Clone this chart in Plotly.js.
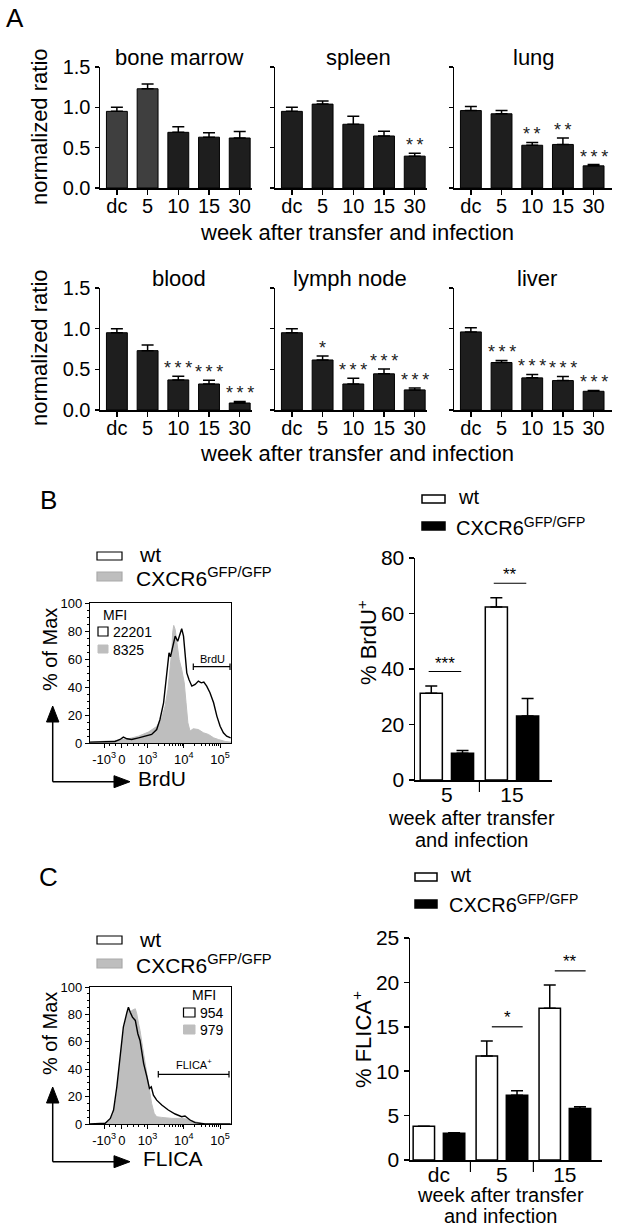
<!DOCTYPE html>
<html><head><meta charset="utf-8">
<script src="https://cdn.plot.ly/plotly-3.0.1.min.js"></script>
<style>body{margin:0;padding:0;background:#fff}#chart{width:622px;height:1229px}</style>
</head><body><div id="chart"></div>
<script>
// ---------- DATA ----------
const weeks = ['dc','5','10','15','30'];
const boneMarrow = [0.95, 1.23, 0.69, 0.63, 0.62];
const boneMarrowErr = [0.05, 0.06, 0.07, 0.055, 0.08];
const boneMarrowSig = ['','','','',''];
const spleen = [0.95, 1.04, 0.79, 0.645, 0.395];
const spleenErr = [0.05, 0.04, 0.10, 0.06, 0.035];
const spleenSig = ['','','','','**'];
const lung = [0.96, 0.92, 0.53, 0.54, 0.275];
const lungErr = [0.05, 0.04, 0.035, 0.08, 0.015];
const lungSig = ['','','**','**','***'];
const blood = [0.95, 0.73, 0.37, 0.32, 0.086];
const bloodErr = [0.05, 0.07, 0.045, 0.045, 0.02];
const bloodSig = ['','','***','***','***'];
const lymphNode = [0.95, 0.615, 0.32, 0.445, 0.247];
const lymphNodeErr = [0.05, 0.05, 0.07, 0.06, 0.023];
const lymphNodeSig = ['','*','***','***','***'];
const liver = [0.96, 0.584, 0.395, 0.362, 0.23];
const liverErr = [0.05, 0.024, 0.04, 0.05, 0.01];
const liverSig = ['','***','***','***','***'];

const weeksB = ['5','15'];
const wtBrdU = [31.3, 62.3];
const wtBrdUErr = [2.6, 3.4];
const koBrdU = [9.6, 23.1];
const koBrdUErr = [1.0, 6.3];
const sigB = ['***','**'];

const weeksC = ['dc','5','15'];
const wtFlica = [3.8, 11.7, 17.1];
const wtFlicaErr = [0, 1.7, 2.6];
const koFlica = [3.0, 7.3, 5.8];
const koFlicaErr = [0.07, 0.5, 0.2];
const sigC = ['','*','**'];

// histogram x in decades of the biexponential scale (10^3 -> 3, 10^4 -> 4 ...)
const histTickVals = [1.8, 2.29, 3, 4, 5];
const histTickText = ['-10<sup>3</sup>','0','10<sup>3</sup>','10<sup>4</sup>','10<sup>5</sup>'];
const brduKoX = [1.41,1.83,2.20,2.47,2.75,3.02,3.25,3.39,3.48,3.56,3.62,3.67,3.69,3.72,3.76,3.81,3.87,3.94,4.01,4.06,4.11,4.17,4.26,4.40,4.54,4.68,4.82,4.95,5.14,5.30];
const brduKoY = [0.6,1.1,2.0,3.0,4.9,7.8,11.8,17.9,26.2,38.2,52.5,66.8,78.7,84.0,81.1,69.2,59.6,52.5,43.0,28.7,14.4,8.5,10.2,9.6,7.3,6.1,3.7,2.5,1.1,0.6];
const brduWtX = [1.41,1.83,2.10,2.24,2.33,2.43,2.56,2.75,2.93,3.11,3.25,3.34,3.44,3.51,3.56,3.59,3.63,3.67,3.71,3.76,3.83,3.88,3.94,3.99,4.03,4.08,4.14,4.22,4.31,4.40,4.48,4.55,4.63,4.72,4.82,4.91,5.00,5.09,5.18,5.29];
const brduWtY = [0.6,0.6,1.1,2.5,4.2,3.0,2.5,3.7,4.9,6.1,9.6,16.8,28.7,45.4,62.0,64.4,61.6,66.8,71.6,76.3,72.7,77.5,81.6,76.3,62.0,50.1,45.4,40.6,41.8,44.2,43.0,43.5,40.6,35.9,28.7,19.2,12.0,7.3,4.9,3.7];
const flicaKoX = [1.41,1.83,1.97,2.06,2.15,2.24,2.33,2.43,2.47,2.52,2.56,2.66,2.70,2.75,2.79,2.86,2.93,3.02,3.11,3.18,3.25,3.39,3.67,3.94,4.13,4.31,4.49,4.77,5.29];
const flicaKoY = [0,0.5,2.9,7.8,22.3,44.1,65.9,80.4,85.3,81.6,82.8,84.1,80.4,73.2,68.3,56.2,44.1,29.6,15.0,7.8,5.3,4.8,4.1,4.1,3.4,1.7,0.5,0,0];
const flicaWtX = [1.41,1.83,1.97,2.06,2.15,2.24,2.33,2.43,2.47,2.52,2.58,2.66,2.73,2.79,2.89,2.98,3.05,3.10,3.16,3.25,3.39,3.57,3.76,3.94,4.03,4.17,4.31,4.59,5.29];
const flicaWtY = [0,0.5,4.1,10.2,27.1,51.4,70.7,81.6,85.3,81.6,78.0,75.6,65.9,61.0,44.1,34.4,25.9,27.1,21.1,17.4,13.8,10.2,7.3,5.3,5.8,2.9,1.0,0,0];
const mfiBrdU = ['22201','8325'];
const mfiFlica = ['954','979'];

// ---------- LAYOUT HELPERS ----------
const W = 622, H = 1229;
const X = px => px / W, Y = py => 1 - py / H;
const F = 'Liberation Sans, Arial, sans-serif';
const BLK = '#000';
const annotations = [], shapes = [], traces = [];
function ann(text, px, py, size, o) {
  annotations.push(Object.assign({xref:'paper', yref:'paper', x:X(px), y:Y(py), text:text,
    showarrow:false, font:{size:size, color:BLK, family:F}, xanchor:'center', yanchor:'middle'}, o || {}));
}
function lineP(x0,y0,x1,y1,w,c){ shapes.push({type:'line', xref:'paper', yref:'paper', x0:X(x0), y0:Y(y0), x1:X(x1), y1:Y(y1), line:{color:c||BLK, width:w||1.2}}); }
function rectP(x0,y0,x1,y1,fill,lc,lw){ shapes.push({type:'rect', xref:'paper', yref:'paper', x0:X(x0), y0:Y(y0), x1:X(x1), y1:Y(y1), fillcolor:fill, line:{color:lc, width:lw}}); }
function triP(pts){ shapes.push({type:'path', xref:'paper', yref:'paper', path:'M '+pts.map(p=>X(p[0])+' '+Y(p[1])).join(' L ')+' Z', fillcolor:BLK, line:{color:BLK, width:1}}); }
const spaced = s => s.split('').join('\u2009');

const layout = {width:W, height:H, margin:{l:0,r:0,t:0,b:0}, paper_bgcolor:'#fff', plot_bgcolor:'rgba(0,0,0,0)',
  showlegend:false, barmode:'overlay', font:{family:F, color:BLK}};

function baseAxis(extra){ return Object.assign({showline:true, linecolor:BLK, linewidth:1.5, ticks:'outside', ticklen:5, tickwidth:1.5, tickcolor:BLK, showgrid:false, zeroline:false, fixedrange:true, tickfont:{size:20, family:F, color:BLK}}, extra); }

// ---------- PANEL A ----------
const panelsA = [
  {name:'bone marrow', v:boneMarrow, e:boneMarrowErr, s:boneMarrowSig, col:0, row:0, cx:179, colors:['#3f3f3f','#3f3f3f','#1e1e1e','#1e1e1e','#1e1e1e']},
  {name:'spleen', v:spleen, e:spleenErr, s:spleenSig, col:1, row:0, cx:358},
  {name:'lung', v:lung, e:lungErr, s:lungSig, col:2, row:0, cx:534},
  {name:'blood', v:blood, e:bloodErr, s:bloodSig, col:0, row:1, cx:179},
  {name:'lymph node', v:lymphNode, e:lymphNodeErr, s:lymphNodeSig, col:1, row:1, cx:350},
  {name:'liver', v:liver, e:liverErr, s:liverSig, col:2, row:1, cx:537}
];
const colX = [[100,252,4.4],[275,427,4.4],[454,612,4.6]];
const rowY = [[188,67],[410,288]];
panelsA.forEach((p,i)=>{
  const k = i+1, xs = k===1?'':String(k);
  const cx = colX[p.col], ry = rowY[p.row];
  layout['xaxis'+xs] = baseAxis({domain:[X(cx[0]),X(cx[1])], anchor:'y'+xs, type:'category', range:[-0.55,cx[2]], ticklen:5, ticklabelstandoff:-6});
  layout['yaxis'+xs] = baseAxis({domain:[Y(ry[0]),Y(ry[1])], anchor:'x'+xs, range:[0,1.5], tickvals:[0,0.5,1,1.5], ticktext:['0.0','0.5','1.0','1.5'], ticklen:4, showticklabels:p.col===0});
  traces.push({type:'bar', x:weeks, y:p.v, xaxis:'x'+xs, yaxis:'y'+xs, width:0.68,
    marker:{color:p.colors||'#1e1e1e', line:{color:BLK, width:1}},
    error_y:{type:'data', symmetric:false, array:p.e, arrayminus:p.e.map(()=>0), color:BLK, thickness:1.5, width:6}});
  ann(p.name, p.cx, p.row===0?57:278, 22);
  p.s.forEach((s,j)=>{ if(s) annotations.push({xref:'x'+xs, yref:'y'+xs, x:j, y:p.v[j]+p.e[j]+0.1, text:spaced(s), showarrow:false, font:{size:18,color:'#222',family:F}, xanchor:'center', yanchor:'middle'}); });
});
ann('A', 15, 18, 26);
ann('normalized ratio', 40, 127, 22, {textangle:-90});
ann('normalized ratio', 40, 348, 22, {textangle:-90});
ann('week after transfer and infection', 357, 232, 22);
ann('week after transfer and infection', 357, 453, 22);

// ---------- HISTOGRAM AXES ----------
const minorHist = [];
[3,4].forEach(d=>{ for(let m=2;m<=9;m++) minorHist.push(d+Math.log10(m)); });
[1.95,2.1,2.45,2.6,2.75,2.9].forEach(v=>minorHist.push(v));
function histAxes(xs, top, bottom){
  layout['xaxis'+xs] = {domain:[X(90),X(231)], anchor:'y'+xs, range:[1.41,5.30], tickvals:histTickVals, ticktext:histTickText,
    showline:true, mirror:true, linecolor:BLK, linewidth:1.2, ticks:'outside', ticklen:4, tickcolor:BLK, tickwidth:1,
    minor:{tickvals:minorHist, ticks:'outside', ticklen:2, tickcolor:BLK}, showgrid:false, zeroline:false, fixedrange:true,
    tickfont:{size:13, family:F, color:BLK}};
  layout['yaxis'+xs] = {domain:[Y(bottom),Y(top)], anchor:'x'+xs, range:[0,100], dtick:20,
    showline:true, mirror:true, linecolor:BLK, linewidth:1.2, ticks:'outside', ticklen:4, tickcolor:BLK, tickwidth:1,
    minor:{dtick:5, ticks:'outside', ticklen:2, tickcolor:BLK}, showgrid:false, zeroline:false, fixedrange:true,
    tickfont:{size:13, family:F, color:BLK}};
}
histAxes('7', 603, 743);
histAxes('9', 987, 1124);
traces.push({type:'scatter', mode:'lines', x:brduKoX, y:brduKoY, xaxis:'x7', yaxis:'y7', fill:'tozeroy', fillcolor:'#bebebe', line:{color:'#bebebe', width:1}});
traces.push({type:'scatter', mode:'lines', x:brduWtX, y:brduWtY, xaxis:'x7', yaxis:'y7', line:{color:BLK, width:1.4}});
traces.push({type:'scatter', mode:'lines', x:flicaKoX, y:flicaKoY, xaxis:'x9', yaxis:'y9', fill:'tozeroy', fillcolor:'#bebebe', line:{color:'#bebebe', width:1}});
traces.push({type:'scatter', mode:'lines', x:flicaWtX, y:flicaWtY, xaxis:'x9', yaxis:'y9', line:{color:BLK, width:1.4}});

// histogram decorations
function histDeco(top, legWt, legKo, arrowV, arrowBottom, label, labelX, labelY){
  rectP(97,legWt-4,122,legWt+4,'#fff',BLK,1.2);
  ann('wt', 137, legWt-1, 21, {xanchor:'left'});
  rectP(97,legKo-5,122,legKo+4,'#bebebe','#aaaaaa',1.2);
  ann('CXCR6<sup>GFP/GFP</sup>', 134, legKo, 21, {xanchor:'left'});
  ann('% of Max', 50, top+47, 20, {textangle:-90});
  lineP(52.7, arrowBottom, 52.7, arrowV+14, 1.5);
  triP([[52.7,arrowV],[46.5,arrowV+16],[58.9,arrowV+16]]);
  lineP(52.7, arrowBottom, 116, arrowBottom, 1.5);
  triP([[130,arrowBottom],[114,arrowBottom-6],[114,arrowBottom+6]]);
  ann(label, labelX, labelY, 21);
}
histDeco(603, 556, 577, 706, 781.7, 'BrdU', 162, 778);
histDeco(987, 940, 964, 1087, 1161.7, 'FLICA', 173, 1158);
// MFI boxes
ann('MFI', 115, 615, 14);
rectP(98,627,108,636,'#fff',BLK,1.2); ann(mfiBrdU[0], 111, 631.5, 14, {xanchor:'left'});
rectP(98,645,108,653,'#bebebe','#bebebe',1); ann(mfiBrdU[1], 111, 649.5, 14, {xanchor:'left'});
ann('MFI', 204, 995, 14);
rectP(183.5,1008,195,1017,'#fff',BLK,1.2); ann(mfiFlica[0], 198, 1012.5, 14, {xanchor:'left'});
rectP(183.5,1025,195,1034,'#bebebe','#bebebe',1); ann(mfiFlica[1], 198, 1029.5, 14, {xanchor:'left'});
// gates
lineP(193.3,666.7,230,666.7,1.2); lineP(193.3,663.5,193.3,670,1.2); lineP(230,663.5,230,670,1.2);
ann('BrdU', 212, 659, 11);
lineP(158.3,1074.3,229,1074.3,1.2); lineP(158.3,1071,158.3,1077.5,1.2); lineP(229,1071,229,1077.5,1.2);
ann('FLICA<sup>+</sup>', 194, 1064, 11);

// ---------- BAR CHARTS B & C ----------
function barAxes(xs, x0, x1, y0, y1, rng, yr, dtick){
  layout['xaxis'+xs] = baseAxis({domain:[X(x0),X(x1)], anchor:'y'+xs, type:'category', range:rng, ticks:'', ticklabelstandoff:-5, tickfont:{size:21,family:F,color:BLK}});
  layout['yaxis'+xs] = baseAxis({domain:[Y(y0),Y(y1)], anchor:'x'+xs, range:yr, dtick:dtick, ticklen:5, tickfont:{size:21,family:F,color:BLK}});
}
barAxes('8', 415, 552, 780, 558, [-0.49,1.615], [0,80], 20);
barAxes('10', 410, 602, 1160, 938, [-0.46,2.59], [0,25], 5);
function pairBars(xs, cats, wt, wtE, ko, koE){
  traces.push({type:'bar', x:cats, y:wt, xaxis:'x'+xs, yaxis:'y'+xs, offset:-0.41, width:0.34,
    marker:{color:'#fff', line:{color:BLK, width:1.5}},
    error_y:{type:'data', symmetric:false, array:wtE, arrayminus:wtE.map(()=>0), color:BLK, thickness:1.5, width:6, visible:true}});
  traces.push({type:'bar', x:cats, y:ko, xaxis:'x'+xs, yaxis:'y'+xs, offset:0.07, width:0.34,
    marker:{color:BLK, line:{color:BLK, width:1.5}},
    error_y:{type:'data', symmetric:false, array:koE, arrayminus:koE.map(()=>0), color:BLK, thickness:1.5, width:6}});
}
pairBars('8', weeksB, wtBrdU, wtBrdUErr, koBrdU, koBrdUErr);
pairBars('10', weeksC, wtFlica, wtFlicaErr, koFlica, koFlicaErr);
// significance brackets
function sig(xs, labels, wt, wtE, ko, koE, off, dx0, dx1, starOff){
  labels.forEach((s,i)=>{ if(!s) return;
    const y = Math.max(wt[i]+wtE[i], ko[i]+koE[i]) + off;
    shapes.push({type:'line', xref:'x'+xs, yref:'y'+xs, x0:i+dx0, x1:i+dx1, y0:y, y1:y, line:{color:BLK, width:1.2}});
    annotations.push({xref:'x'+xs, yref:'y'+xs, x:i+(dx0+dx1)/2, y:y+starOff, text:s, showarrow:false, font:{size:17,color:BLK,family:F}, yanchor:'middle'});
  });
}
sig('8', sigB, wtBrdU, wtBrdUErr, koBrdU, koBrdUErr, 5.2, -0.28, 0.22, 3.0);
sig('10', sigC, wtFlica, wtFlicaErr, koFlica, koFlicaErr, 1.6, -0.16, 0.33, 1.1);
// category dividers
[0.5].forEach(v=>shapes.push({type:'line', xref:'x8', yref:'paper', x0:v, x1:v, y0:Y(780), y1:Y(792), line:{color:BLK,width:1.2}}));
[0.5,1.5].forEach(v=>shapes.push({type:'line', xref:'x10', yref:'paper', x0:v, x1:v, y0:Y(1160), y1:Y(1172), line:{color:BLK,width:1.2}}));
// legends
rectP(422,495,445,503,'#fff',BLK,1.5); ann('wt', 456, 497, 20, {xanchor:'left'});
rectP(422,522,445,530,BLK,BLK,1.5); ann('CXCR6<sup>GFP/GFP</sup>', 454, 526, 20, {xanchor:'left'});
rectP(415,873,437,881,'#fff',BLK,1.5); ann('wt', 448, 875, 20, {xanchor:'left'});
rectP(415,900,437,908,BLK,BLK,1.5); ann('CXCR6<sup>GFP/GFP</sup>', 447, 903, 20, {xanchor:'left'});
ann('% BrdU<sup>+</sup>', 367, 643, 22, {textangle:-90});
ann('% FLICA<sup>+</sup>', 362, 1040, 22, {textangle:-90});
ann('week after transfer', 471, 818, 20); ann('and infection', 471, 840, 20);
ann('week after transfer', 500, 1195, 20); ann('and infection', 500, 1216, 20);
ann('B', 48, 500, 26); ann('C', 48, 877, 26);

layout.annotations = annotations;
layout.shapes = shapes;
Plotly.newPlot('chart', traces, layout, {displayModeBar:false, staticPlot:true});
</script></body></html>
